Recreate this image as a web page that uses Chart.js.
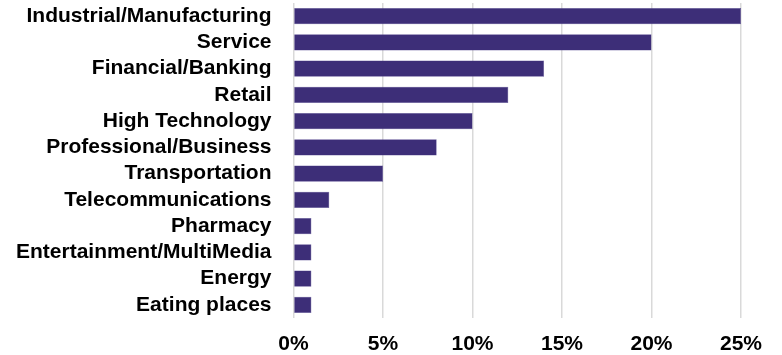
<!DOCTYPE html>
<html>
<head>
<meta charset="utf-8">
<script src="https://cdn.jsdelivr.net/npm/chart.js@4/dist/chart.umd.min.js"></script>
<style>
  html, body { margin: 0; padding: 0; background: #fff; }
  canvas { display: block; }
</style>
</head>
<body>
<canvas id="industries" width="782" height="355"></canvas>
<script>
const industries = [
    'Industrial/Manufacturing', 'Service', 'Financial/Banking', 'Retail',
    'High Technology', 'Professional/Business', 'Transportation',
    'Telecommunications', 'Pharmacy', 'Entertainment/MultiMedia',
    'Energy', 'Eating places'
];
const shares = [25, 20, 14, 12, 10, 8, 5, 2, 1, 1, 1, 1];
const xTicks = [0, 5, 10, 15, 20, 25];

const labelFont = { family: 'Liberation Sans, Arial, sans-serif', size: 21, weight: 'bold', lineHeight: 1 };

// drop the half-label padding the scales reserve, so the layout padding alone places the plot
function noEdgePadding(scale) {
    scale.paddingTop = 0;
    scale.paddingBottom = 0;
    scale.paddingLeft = 0;
    scale.paddingRight = 0;
}

window.onload = () => {
    const config = {
        type: 'bar',
        data: {
            labels: industries,
            datasets: [{
                data: shares,
                backgroundColor: '#3d2e78',
                borderColor: '#5a4c94',
                borderWidth: 0.5,
                categoryPercentage: 1,
                barPercentage: 0.62
            }]
        },
        options: {
            indexAxis: 'y',
            responsive: false,
            animation: false,
            layout: { padding: { top: 3, right: 41, left: 0, bottom: 0 } },
            plugins: {
                legend: { display: false },
                tooltip: { enabled: false }
            },
            scales: {
                x: {
                    min: 0,
                    max: 25,
                    afterBuildTicks: (scale) => {
                        scale.ticks = xTicks.map(v => ({ value: v }));
                    },
                    afterFit: (scale) => {
                        noEdgePadding(scale);
                        scale.height = 37;
                    },
                    grid: { color: '#d9d9d9', lineWidth: 1.5, drawTicks: false },
                    border: { display: false },
                    ticks: {
                        color: '#000',
                        font: labelFont,
                        padding: 16,
                        maxRotation: 0,
                        callback: (v) => v + '%'
                    }
                },
                y: {
                    afterFit: (scale) => {
                        noEdgePadding(scale);
                        scale.width = 293.5;
                    },
                    grid: { display: false, drawTicks: false },
                    border: { display: false },
                    ticks: {
                        color: '#000',
                        font: labelFont,
                        padding: 22,
                        autoSkip: false
                    }
                }
            }
        }
    };

    new Chart(document.getElementById('industries'), config);
};
</script>
</body>
</html>
